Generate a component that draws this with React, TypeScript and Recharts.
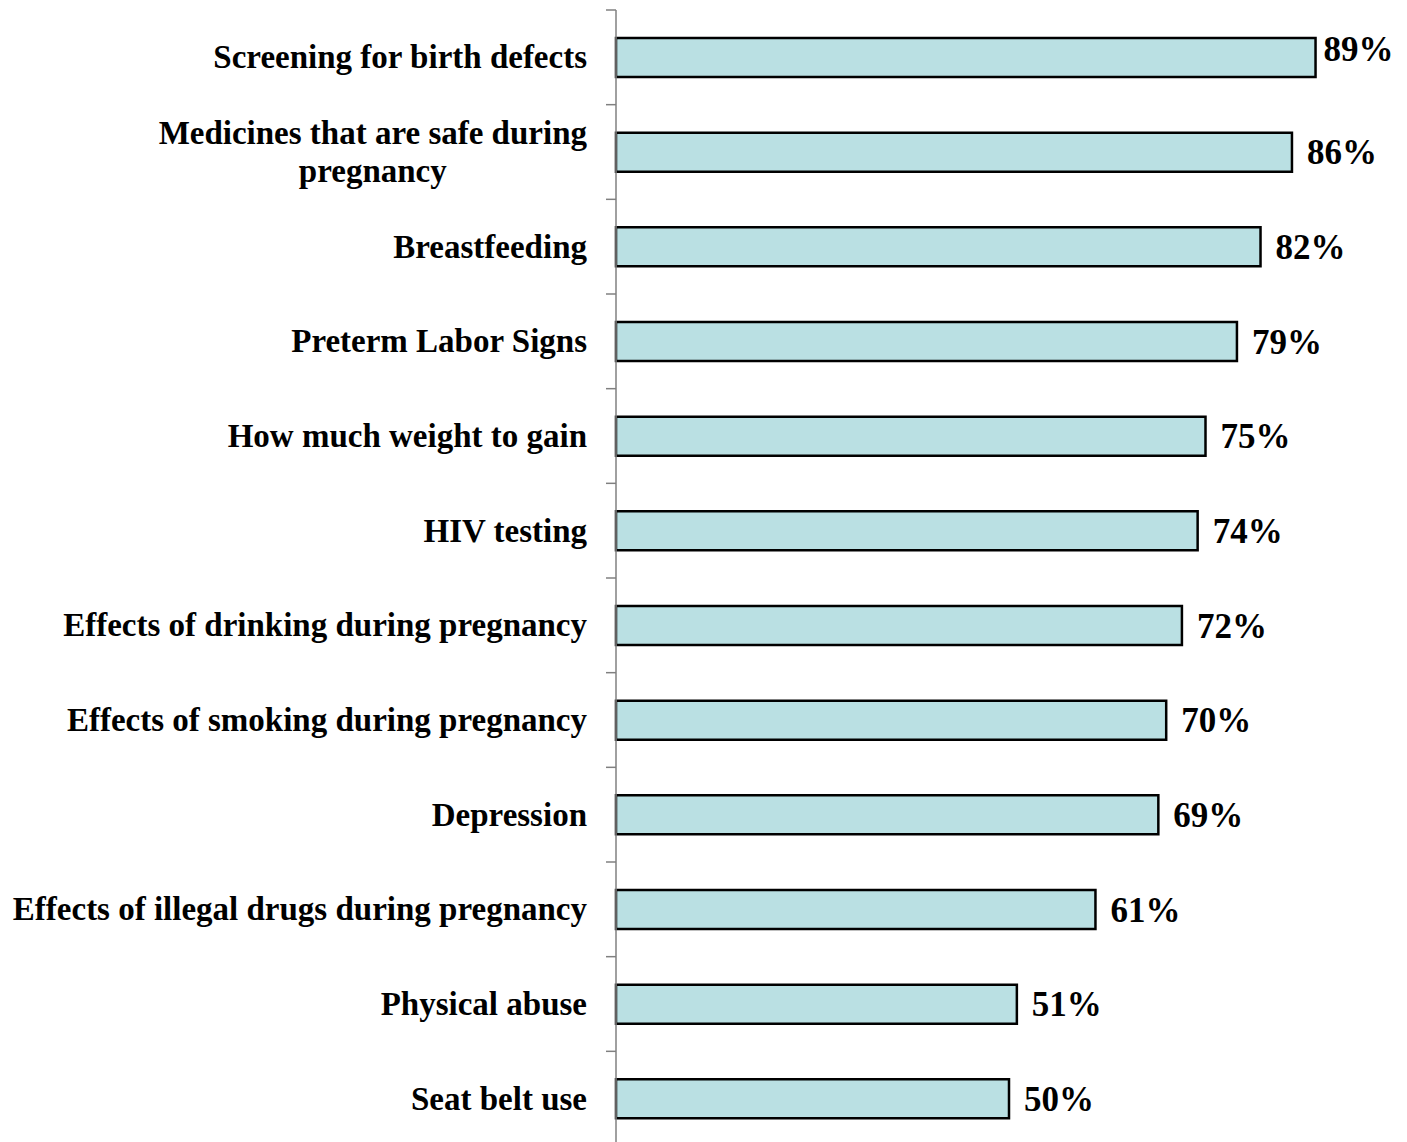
import React from "react";
import { BarChart, Bar, XAxis, YAxis, LabelList } from "recharts";

const categories = [
  "Screening for birth defects",
  "Medicines that are safe during pregnancy",
  "Breastfeeding",
  "Preterm Labor Signs",
  "How much weight to gain",
  "HIV testing",
  "Effects of drinking during pregnancy",
  "Effects of smoking during pregnancy",
  "Depression",
  "Effects of illegal drugs during pregnancy",
  "Physical abuse",
  "Seat belt use",
];
const values = [89, 86, 82, 79, 75, 74, 72, 70, 69, 61, 51, 50];
const wrapped: Record<string, string[]> = {
  "Medicines that are safe during pregnancy": ["Medicines that are safe during", "pregnancy"],
};

const data = categories.map((c, i) => ({ name: c, value: values[i] }));

const W = 1407;
const H = 1152;
const M = { top: 10, right: 5, bottom: 6, left: 0 };
const AXIS_W = 616;
const BAND = (H - M.top - M.bottom) / categories.length;
const FONT = "'Liberation Serif', 'Times New Roman', serif";
const FS = 33;
const VFS = 35;

let ctx: CanvasRenderingContext2D | null = null;
function measure(t: string, fs: number) {
  if (!ctx) {
    const c = document.createElement("canvas");
    ctx = c.getContext("2d");
  }
  if (!ctx) return t.length * fs * 0.45;
  ctx.font = `bold ${fs}px ${FONT}`;
  return ctx.measureText(t).width;
}

const Tick = (props: any) => {
  const { y, payload } = props;
  const right = AXIS_W - 29;
  const lines = wrapped[payload.value] || [payload.value];
  const maxW = Math.max(...lines.map((l) => measure(l, FS)));
  const lh = 38;
  const y0 = y - ((lines.length - 1) * lh) / 2;
  return (
    <g>
      <line x1={AXIS_W - 10} x2={AXIS_W} y1={y - BAND / 2} y2={y - BAND / 2} stroke="#808080" strokeWidth={1.5} />
      {lines.map((l, i) => (
        <text
          key={i}
          x={lines.length > 1 ? right - maxW / 2 : right}
          y={y0 + i * lh}
          dy={11}
          textAnchor={lines.length > 1 ? "middle" : "end"}
          fontFamily={FONT}
          fontWeight="bold"
          fontSize={FS}
          fill="#000"
        >
          {l}
        </text>
      ))}
    </g>
  );
};

const ValueLabel = (props: any) => {
  const { x, y, width, height, value } = props;
  const txt = `${value}%`;
  const tw = measure(txt, VFS);
  let lx = x + width + 15;
  let ly = y + height / 2;
  if (lx + tw > W - 8) {
    lx = x + width + 8;
    ly -= 9;
  }
  return (
    <text x={lx} y={ly} dy={12} fontFamily={FONT} fontWeight="bold" fontSize={VFS} fill="#000">
      {txt}
    </text>
  );
};

export default function App() {
  return (
    <div style={{ width: W, height: H }}>
      <style>{`body{margin:0;overflow:hidden;background:#fff}`}</style>
      <BarChart width={W} height={H} data={data} layout="vertical" margin={M} barCategoryGap={0}>
        <XAxis type="number" domain={[0, 100]} hide />
        <YAxis
          type="category"
          dataKey="name"
          width={AXIS_W}
          axisLine={{ stroke: "#808080", strokeWidth: 1.5 }}
          tickLine={false}
          tick={<Tick />}
          interval={0}
        />
        <Bar dataKey="value" fill="#BAE0E3" stroke="#000" strokeWidth={2.5} barSize={39} isAnimationActive={false}>
          <LabelList dataKey="value" content={<ValueLabel />} />
        </Bar>
      </BarChart>
    </div>
  );
}
